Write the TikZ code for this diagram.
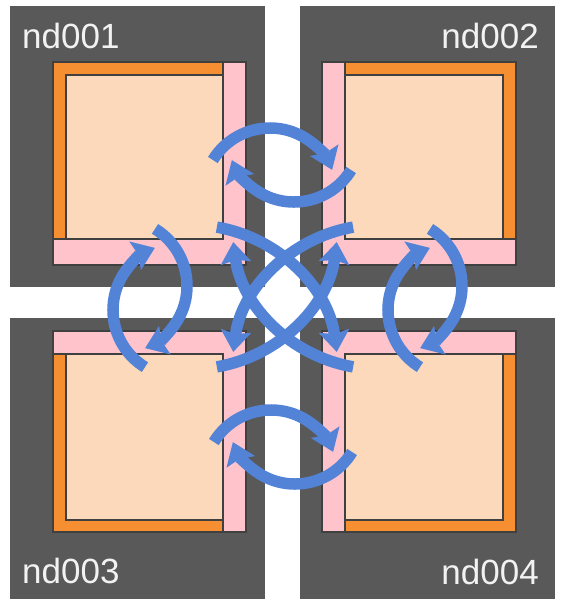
\documentclass[tikz,border=0pt]{standalone}
\usepackage{fontspec}
\setmainfont{Liberation Sans}
\usepackage{xcolor}
\usetikzlibrary{arrows.meta}

\definecolor{tile}{HTML}{595959}
\definecolor{edge}{HTML}{404040}
\definecolor{core}{HTML}{FBD9BA}
\definecolor{halo}{HTML}{FFC3CB}
\definecolor{rim}{HTML}{F68E32}
\definecolor{swap}{HTML}{5383D6}

\begin{document}
\begin{tikzpicture}[x=1pt, y=-1pt, >={Stealth[length=21pt, width=30pt, inset=3pt]},
    swp/.style={draw=swap, line width=11.5pt, ->},
    box/.style={draw=edge, line width=2pt},
    lbl/.style={text=white!95!black, font=\fontsize{35}{42}\selectfont, inner sep=0pt}]
    \useasboundingbox (0,0) rectangle (562,614);
    % tiles
    \fill[tile] (10,6) rectangle (265,287);
    \fill[tile] (300,6) rectangle (555,287);
    \fill[tile] (10,318) rectangle (265,599);
    \fill[tile] (300,318) rectangle (555,599);
    \node[lbl, anchor=base west] (n001) at (22,48) {nd001};
    \node[lbl, anchor=base east] (n002) at (539,48) {nd002};
    \node[lbl, anchor=base west] (n003) at (22,583) {nd003};
    \node[lbl, anchor=base east] (n004) at (539,584) {nd004};
    % cores
    \fill[halo] (53,62) rectangle (246,265);
    \filldraw[box, fill=rim] (53,62) rectangle (223,239);
    \filldraw[box, fill=core] (66,75) rectangle (223,239);
    \draw[box] (53,62) rectangle (246,265);
    \fill[halo] (322,62) rectangle (516,265);
    \filldraw[box, fill=rim] (516,62) rectangle (345,239);
    \filldraw[box, fill=core] (345,75) rectangle (503,239);
    \draw[box] (322,62) rectangle (516,265);
    \fill[halo] (53,331) rectangle (246,532);
    \filldraw[box, fill=rim] (53,532) rectangle (223,354);
    \filldraw[box, fill=core] (66,354) rectangle (223,520);
    \draw[box] (53,331) rectangle (246,532);
    \fill[halo] (322,331) rectangle (516,532);
    \filldraw[box, fill=rim] (516,532) rectangle (345,354);
    \filldraw[box, fill=core] (345,354) rectangle (503,520);
    \draw[box] (322,331) rectangle (516,532);
    % exchange centres
    \coordinate (p12) at (282,165);
    \coordinate (p34) at (283,447);
    \coordinate (p13) at (150,298);
    \coordinate (p24) at (425,298);
    \coordinate (pX) at (285,297);
    % pairs
    \draw[swp] (p12) ++(-12,30) ++(211.5:67) arc[start angle=211.5, end angle=338, radius=67];
    \draw[swp] (p12) ++(12,-30) ++(31.5:67) arc[start angle=31.5, end angle=158, radius=67];
    \draw[swp] (p34) ++(-12,30) ++(211.5:67) arc[start angle=211.5, end angle=338, radius=67];
    \draw[swp] (p34) ++(12,-30) ++(31.5:67) arc[start angle=31.5, end angle=158, radius=67];
    \draw[swp] (p13) ++(-30,-12) ++(301.5:67) arc[start angle=301.5, end angle=428, radius=67];
    \draw[swp] (p13) ++(30,12) ++(121.5:67) arc[start angle=121.5, end angle=248, radius=67];
    \draw[swp] (p24) ++(-30,-12) ++(301.5:67) arc[start angle=301.5, end angle=428, radius=67];
    \draw[swp] (p24) ++(30,12) ++(121.5:67) arc[start angle=121.5, end angle=248, radius=67];
    % diagonals
    \draw[swp] (pX) ++(-93,74) ++(-80.2:146) arc[start angle=-80.2, end angle=-7.5, radius=146];
    \draw[swp] (pX) ++(93,74) ++(260.2:146) arc[start angle=260.2, end angle=187.5, radius=146];
    \draw[swp] (pX) ++(93,-74) ++(99.8:146) arc[start angle=99.8, end angle=172.5, radius=146];
    \draw[swp] (pX) ++(-93,-74) ++(80.2:146) arc[start angle=80.2, end angle=7.5, radius=146];
\end{tikzpicture}
\end{document}
